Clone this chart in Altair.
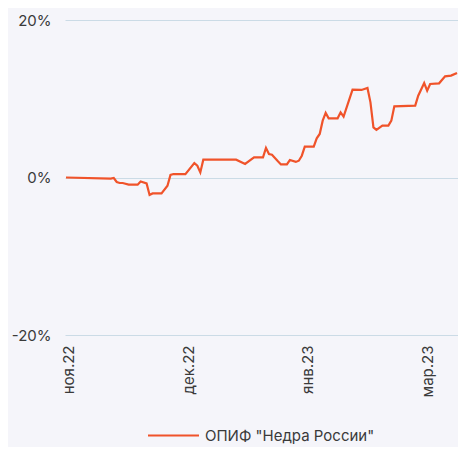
import altair as alt
import pandas as pd

series_name = 'ОПИФ "Недра России"'

# trading-day index and cumulative return, %
day_idx = [0, 15, 16, 17, 18, 19, 21, 24, 25, 27, 28, 29, 32, 34, 35, 36, 40, 43, 44, 45,
           46, 57, 60, 63, 66, 67, 68, 69, 71, 72, 74, 75, 77, 78, 79, 80, 83, 84, 85, 86,
           87, 88, 91, 92, 93, 96, 99, 101, 102, 103, 104, 106, 108, 109, 110, 117, 118, 120, 121, 122,
           125, 127, 129, 131]
returns = [0.0, -0.15, -0.06, -0.57, -0.70, -0.70, -0.91, -0.91, -0.50, -0.75,
           -2.22, -2.02, -2.02, -1.04, 0.32, 0.44, 0.42, 1.82, 1.50, 0.65,
           2.26, 2.26, 1.73, 2.55, 2.55, 3.75, 2.99, 2.90, 2.05, 1.66,
           1.66, 2.22, 1.98, 2.13, 2.77, 3.91, 3.91, 4.97, 5.53, 7.22,
           8.20, 7.51, 7.51, 8.27, 7.73, 11.16, 11.12, 11.37, 9.54, 6.37,
           6.04, 6.58, 6.58, 7.22, 9.03, 9.12, 10.39, 12.00, 11.03, 11.88,
           11.96, 12.85, 12.94, 13.28]

tick_idx = [1, 41, 81, 121]
tick_labels = ["ноя.22", "дек.22", "янв.23", "мар.23"]
y_ticks = [-20, 0, 20]

df = pd.DataFrame({"i": day_idx, "v": returns, "s": series_name})

label_expr = "''"
for t, l in reversed(list(zip(tick_idx, tick_labels))):
    label_expr = f"datum.value == {t} ? '{l}' : ({label_expr})"

FONT = "Inter"
TXT = "#3a3a3a"

chart = alt.Chart(df).mark_line(strokeWidth=2.2).encode(
    x=alt.X("i:Q", scale=alt.Scale(domain=[-0.335, 131.33], nice=False, zero=False),
            axis=alt.Axis(values=tick_idx, labelExpr=label_expr, labelAngle=-90,
                          labelAlign="right", labelBaseline="middle", labelPadding=10,
                          ticks=False, domain=False, grid=False, title=None,
                          labelFontSize=15, labelColor=TXT, labelFont=FONT)),
    y=alt.Y("v:Q", scale=alt.Scale(domain=[-20, 20], nice=False),
            axis=alt.Axis(values=y_ticks, labelExpr="datum.value + '%'", ticks=False,
                          domain=False, grid=True, gridColor="#cbdbe6", gridWidth=1.2,
                          title=None, labelFontSize=15, labelColor=TXT, labelFont=FONT,
                          labelPadding=14)),
    color=alt.Color("s:N", scale=alt.Scale(domain=[series_name], range=["#f0532a"]),
                    legend=alt.Legend(title=None, orient="none", legendX=82, legendY=389,
                                      symbolType="stroke", symbolSize=2600,
                                      symbolStrokeWidth=2, labelFontSize=15,
                                      labelFont=FONT, labelColor=TXT, labelOffset=5,
                                      labelLimit=0, padding=0)),
).properties(
    width=393, height=315,
    autosize=alt.AutoSizeParams(type="none"),
    padding={"left": 57, "right": 0, "top": 12, "bottom": 112},
).configure(background="#f5f5fa").configure_view(stroke=None)

chart.save("out.html", embed_options={"renderer": "svg", "actions": False})
